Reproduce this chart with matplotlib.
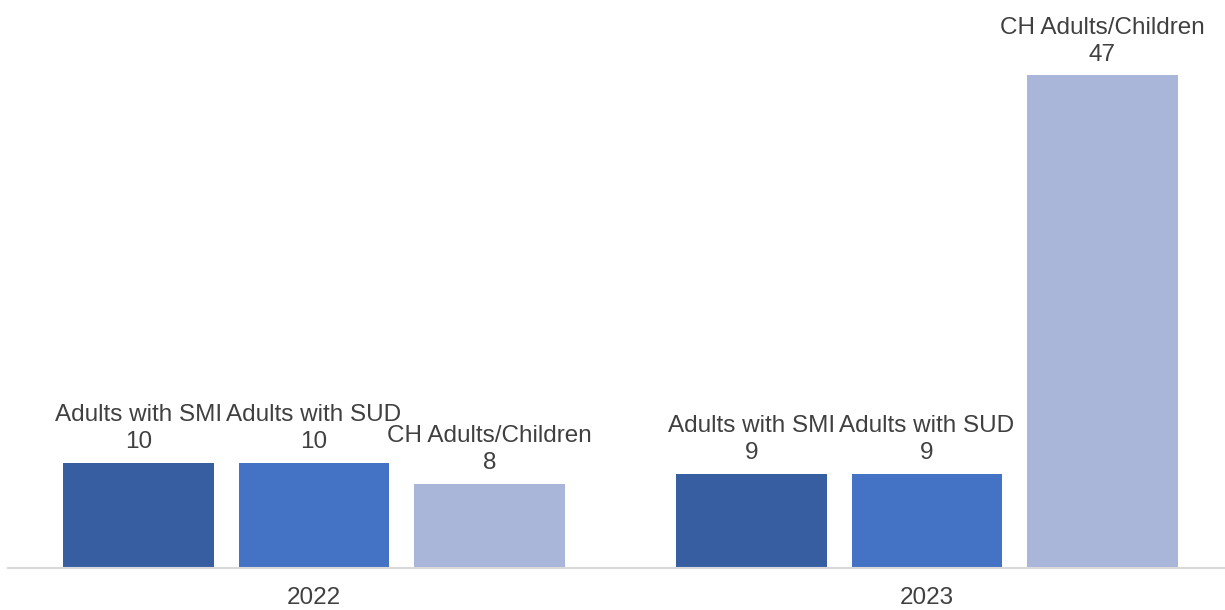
import matplotlib.pyplot as plt
import numpy as np

years = ["2022", "2023"]
groups = ["Adults with SMI", "Adults with SUD", "CH Adults/Children"]
values = {
    "Adults with SMI": [10, 9],
    "Adults with SUD": [10, 9],
    "CH Adults/Children": [8, 47],
}
colors = ["#365ea0", "#4472c4", "#a9b6da"]

plt.rcParams["font.family"] = ["Liberation Sans", "DejaVu Sans"]
text_color = "#404040"

fig = plt.figure(figsize=(12.25, 6.1), dpi=100)
ax = fig.add_axes([7.5 / 1225, 1 - 568 / 610, 1226 / 1225, 0.95])

x = np.arange(len(years))
width = 0.246
step = 0.286

for i, name in enumerate(groups):
    pos = x + (i - 1) * step
    ax.bar(pos, values[name], width=width, color=colors[i], zorder=2)
    for px, v in zip(pos, values[name]):
        ax.annotate(f"{name}\n{v}", xy=(px, v), xytext=(0, 7),
                    textcoords="offset points", ha="center", va="bottom",
                    fontsize=17.5, color=text_color, linespacing=1.3,
                    annotation_clip=False)

ax.set_xlim(-0.5, 1.5)
ax.set_ylim(0, 55.3)
ax.set_xticks(x)
ax.set_xticklabels(years, fontsize=17.5, color=text_color)
ax.tick_params(axis="x", length=0, pad=14)
ax.set_yticks([])
for s in ["top", "right", "left"]:
    ax.spines[s].set_visible(False)
ax.spines["bottom"].set_color("#d9d9d9")
ax.spines["bottom"].set_linewidth(1.5)

fig.savefig("out.png", dpi=100)
